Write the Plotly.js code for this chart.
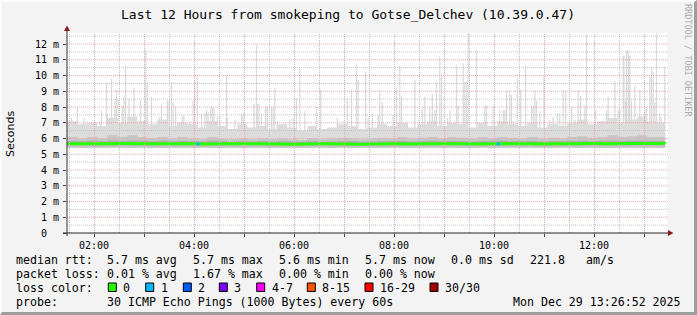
<!DOCTYPE html>
<html><head><meta charset="utf-8">
<script src="https://cdn.plot.ly/plotly-3.0.1.min.js"></script>
<style>
html,body{margin:0;padding:0;background:#f3f3f3;}
#wrap{position:absolute;left:0;top:0;width:697px;height:315px;box-sizing:border-box;border-top:2px solid #fcfcfc;border-left:2px solid #fcfcfc;border-right:3px solid #9e9e9e;border-bottom:3px solid #9e9e9e;background:#f3f3f3;}
#chart{width:692px;height:310px;}
</style></head><body><div id="wrap"><div id="chart"></div></div>
<script>
// ---- data (minutes since midnight, values in ms) ----
const hourTicks = [120,180,240,300,360,420,480,540,600,660,720,780];
const hourLabels = ["02:00","","04:00","","06:00","","08:00","","10:00","","12:00",""];
const yTicks = [0,1,2,3,4,5,6,7,8,9,10,11,12];
const yLabels = ["0\u00a0\u00a0","1 m","2 m","3 m","4 m","5 m","6 m","7 m","8 m","9 m","10 m","11 m","12 m"];

const spikeT = [88,93,100,108,127,129,135,136,141,145,147,149,154,156,158,162,168,176,182,184,189,199,201,
208,210,213,215,218,226,228,235,239,241,244,249,253,255,257,260,262,264,268,271,279,280,289,297,299,312,315,316,318,321,
326,328,333,335,337,340,349,355,359,363,367,373,387,392,412,424,429,435,437,
446,449,454,461,463,466,479,483,487,489,496,505,510,514,517,523,526,529,531,535,537,544,547,555,557,563,565,
567,569,579,589,591,599,607,611,613,615,619,621,623,628,632,638,645,647,649,651,655,660,667,671,676,679,683,
686,693,697,701,704,709,711,722,735,737,745,749,751,755,756,758,759,761,762,763,765,769,775,781,783,787,789,791,793,795,799,801,805];
const spikeV = [7.2,7.35,8.0,7.3,7.1,7.8,9.55,7.55,9.8,8.4,9.1,8.45,8.1,8.65,10.65,8.55,9.2,8.45,11.6,9.55,8.65,7.35,8.1,
8.4,8.4,9.6,8.3,8.1,7.45,7.45,7.1,8.4,9.65,9.9,7.6,7.6,7.8,7.7,8.0,8.0,7.9,7.4,7.35,10.0,7.3,7.2,7.6,7.6,8.2,12.0,8.2,8.2,7.6,
8.05,8.05,8.0,8.0,9.2,7.1,6.95,7.2,7.3,8.55,10.5,7.75,8.05,9.1,7.3,8.5,9.1,10.7,9.75,
10.25,7.3,7.6,7.5,9.1,8.3,7.5,9.3,10.65,8.65,7.0,9.75,7.2,7.9,8.65,8.0,8.85,7.8,9.6,11.2,9.9,7.3,7.8,10.65,8.1,10.8,9.6,
9.6,12.8,11.6,8.1,8.1,8.05,7.8,7.8,7.8,9.05,8.95,8.75,7.1,9.8,9.1,10.65,8.1,8.05,9.05,8.4,7.75,9.95,7.2,7.35,7.6,7.6,9.1,
9.0,8.0,7.2,9.1,8.7,8.1,12.6,7.8,7.8,8.65,9.65,7.8,7.9,11.25,11.25,8.35,11.6,11.6,11.25,11.25,8.4,9.35,9.05,7.85,8.0,9.95,10.5,10.2,8.3,12.7,7.6,7.35,10.6];
const spikeBase = 5.45;

const bandT = [88,100,112,124,136,148,160,172,184,196,208,220,232,244,256,268,280,292,304,316,328,340,352,364,376,388,400,412,424,436,
448,460,472,484,496,508,520,532,544,556,568,580,592,604,616,628,640,652,664,676,688,700,712,724,736,748,760,772,784,796,805];
const bandLight = [7.1,6.9,7.0,6.8,7.3,7.0,7.4,7.1,6.9,7.2,6.8,7.0,6.9,6.7,7.1,6.8,6.6,6.9,6.7,6.8,
6.6,6.9,6.7,6.5,6.8,6.6,6.7,6.9,6.8,6.6,6.7,6.9,6.8,7.0,6.7,6.9,7.1,6.8,7.0,6.9,
6.7,7.0,6.8,7.1,6.9,6.8,7.0,6.7,6.9,6.8,7.0,7.2,6.9,7.1,7.3,7.0,7.2,7.4,7.1,7.0,7.2];
const bandMid = [6.1,6.0,6.1,6.0,6.2,6.1,6.2,6.1,6.0,6.1,6.0,6.1,6.0,5.95,6.1,6.0,5.95,6.0,5.95,6.0,
5.95,6.0,5.95,5.9,6.0,5.95,6.0,6.05,6.0,5.95,6.0,6.05,6.0,6.1,6.0,6.05,6.1,6.0,6.1,6.05,
6.0,6.1,6.0,6.1,6.05,6.0,6.1,6.0,6.05,6.0,6.1,6.15,6.05,6.1,6.2,6.1,6.15,6.2,6.1,6.1,6.15];
const bandLow = [5.42,5.40,5.41,5.39,5.41,5.42,5.40,5.41,5.40,5.39,5.41,5.42,5.40,5.41,5.39,5.40,5.41,5.40,5.42,5.41,
5.40,5.39,5.41,5.40,5.41,5.42,5.40,5.41,5.40,5.41,5.42,5.40,5.41,5.39,5.40,5.41,5.42,5.40,5.41,5.40,
5.39,5.41,5.40,5.42,5.41,5.40,5.41,5.39,5.40,5.41,5.42,5.40,5.41,5.40,5.39,5.41,5.42,5.40,5.41,5.40,5.41];
const darkLo = [5.58,5.57,5.58,5.56,5.58,5.57,5.58,5.57,5.56,5.58,5.57,5.58,5.56,5.57,5.58,5.57,5.56,5.57,5.58,5.57,
5.56,5.57,5.58,5.56,5.57,5.58,5.57,5.56,5.57,5.58,5.57,5.58,5.56,5.57,5.58,5.57,5.56,5.58,5.57,5.58,
5.57,5.56,5.58,5.57,5.58,5.56,5.57,5.58,5.57,5.56,5.58,5.57,5.58,5.57,5.58,5.56,5.57,5.58,5.57,5.58,5.57];
const darkHi = [5.84,5.82,5.85,5.83,5.87,5.84,5.88,5.85,5.83,5.86,5.82,5.84,5.83,5.81,5.85,5.82,5.80,5.83,5.81,5.82,
5.80,5.83,5.81,5.79,5.82,5.80,5.81,5.83,5.82,5.80,5.81,5.83,5.82,5.84,5.81,5.83,5.85,5.82,5.84,5.83,
5.81,5.84,5.82,5.85,5.83,5.82,5.84,5.81,5.83,5.82,5.84,5.86,5.83,5.85,5.87,5.84,5.86,5.88,5.85,5.84,5.86];

const medT = [88,108,128,148,168,188,208,228,248,268,288,308,328,348,368,388,408,428,448,468,488,508,528,548,568,588,608,628,648,668,688,708,728,748,768,788,805];
const medV = [5.66,5.67,5.66,5.68,5.67,5.66,5.67,5.66,5.65,5.66,5.67,5.66,5.65,5.64,5.65,5.66,5.65,5.64,5.65,5.66,5.65,5.66,5.67,5.66,5.65,5.66,5.67,5.66,5.65,5.66,5.67,5.68,5.67,5.68,5.69,5.68,5.67];

const loss1T = [245,605];
const loss1V = [5.66,5.66];

const lossLabels = ["0","1","2","3","4-7","8-15","16-29","30/30"];
const lossColors = ["#26ff00","#00b8ff","#0059ff","#7e00ff","#ff00ff","#ff5500","#ff0000","#a10000"];

const row1 = ["median rtt:","5.7 ms avg","5.7 ms max","5.6 ms min","5.7 ms now","0.0 ms sd","221.8","am/s"];
const row2 = ["packet loss:","0.01 % avg","1.67 % max","0.00 % min","0.00 % now"];
const row3Label = "loss color:";
const row4 = ["probe:","30 ICMP Echo Pings (1000 Bytes) every 60s","Mon Dec 29 13:26:52 2025"];
const titleText = "Last 12 Hours from smokeping to Gotse_Delchev (10.39.0.47)";

// ---- layout helpers (page pixels -> paper fractions) ----
const PL=67, PR=668, PT=33, PB=233;
const X = px => (px-PL)/(PR-PL);
const Y = py => (PB-py)/(PB-PT);
const MONO = "DejaVu Sans Mono, monospace";
const XR = [87.6,808.8], YR = [0,12.7];
const HALFPX = (XR[1]-XR[0])/(PR-PL)/2;

const traces = [];
traces.push({type:'bar', x:spikeT, y:spikeV.map(v=>v-spikeBase), base:spikeBase, width:1.5,
  marker:{color:'#dadada', line:{width:0}}, hoverinfo:'skip'});
function band(lo, hi, color){
  traces.push({type:'scatter', mode:'lines', x:bandT, y:lo, line:{width:0, shape:'hv'}, hoverinfo:'skip'});
  traces.push({type:'scatter', mode:'lines', x:bandT, y:hi, line:{width:0, shape:'hv'}, fill:'tonexty', fillcolor:color, hoverinfo:'skip'});
}
band(bandLow, bandLight, '#dcdcdc');
band(bandLow, bandMid, '#c6c6c6');
band(darkLo, darkHi, '#adadad');
traces.push({type:'scatter', mode:'lines', x:medT, y:medV, line:{color:'#26ff00', width:3, shape:'hv'}, hoverinfo:'skip'});
traces.push({type:'scatter', mode:'markers', x:loss1T, y:loss1V, marker:{color:'#00b8ff', size:3, symbol:'square'}, hoverinfo:'skip'});

const shapes = [];
// grid drawn above the smoke, like rrdtool
const MINORC = '#c2c2c2', MAJORC = '#e6aaaa', DASH = '1px,1px';
hourTicks.map(t=>t-30).filter(t=>t>XR[0]&&t<XR[1]).forEach(t=>{
  shapes.push({type:'line', layer:'above', xref:'x', yref:'paper', x0:t+HALFPX, x1:t+HALFPX, y0:0, y1:1, line:{color:MINORC, width:1, dash:DASH}});
});
yTicks.map(v=>v+0.5).filter(v=>v<YR[1]).forEach(v=>{
  shapes.push({type:'line', layer:'above', xref:'paper', yref:'y', x0:0, x1:1, y0:v, y1:v, line:{color:MINORC, width:1, dash:DASH}});
});
hourTicks.forEach(t=>{
  shapes.push({type:'line', layer:'above', xref:'x', yref:'paper', x0:t+HALFPX, x1:t+HALFPX, y0:0, y1:1, line:{color:MAJORC, width:1, dash:DASH}});
});
yTicks.filter(v=>v>0).forEach(v=>{
  shapes.push({type:'line', layer:'above', xref:'paper', yref:'y', x0:0, x1:1, y0:v, y1:v, line:{color:MAJORC, width:1, dash:DASH}});
});

const annotations = [];
function txt(text, px, py, opts){
  annotations.push(Object.assign({xref:'paper', yref:'paper', x:X(px), y:Y(py), text:text, showarrow:false,
    xanchor:'left', yanchor:'middle', borderpad:0, font:{family:MONO, size:11.6, color:'#000'}}, opts||{}));
}
const r1x=[16,107.3,193.3,279.3,365,451,530,586];
row1.forEach((t,i)=>txt(t, r1x[i]-1, 259.5));
const r2x=[16,107.3,193.3,279.3,365];
row2.forEach((t,i)=>txt(t, r2x[i]-1, 273.5));
txt(row3Label, 15, 287.5);
const boxX=[108.3,145.7,183.3,219.3,256.7,307.3,365,430];
lossLabels.forEach((t,i)=>{
  txt(t, boxX[i]+14, 287.5);
  shapes.push({type:'rect', xref:'paper', yref:'paper', x0:X(boxX[i]), x1:X(boxX[i]+8), y0:Y(291.5), y1:Y(283),
    fillcolor:lossColors[i], line:{color:'#000', width:1}});
});
const r4x=[16,107.3,512.7];
row4.forEach((t,i)=>txt(t, r4x[i]-1, 302));
txt('Seconds', 10, 134, {xanchor:'center', textangle:-90, font:{family:'DejaVu Sans, sans-serif', size:11, color:'#000'}});
txt('RRDTOOL / TOBI OETIKER', 688, 60, {xanchor:'center', textangle:90, font:{family:MONO, size:8.5, color:'#ababab'}});

// axis lines and arrows
shapes.push({type:'line', xref:'paper', yref:'paper', x0:X(67), x1:X(67), y0:Y(236), y1:Y(29), line:{color:'#333', width:1}});
shapes.push({type:'line', xref:'paper', yref:'paper', x0:X(63), x1:X(669), y0:Y(233), y1:Y(233), line:{color:'#222', width:1}});
shapes.push({type:'path', xref:'paper', yref:'paper', path:`M ${X(64)},${Y(31)} L ${X(67)},${Y(25.5)} L ${X(70)},${Y(31)} Z`, fillcolor:'#8b1a1a', line:{width:0}});
shapes.push({type:'path', xref:'paper', yref:'paper', path:`M ${X(668)},${Y(230)} L ${X(673.5)},${Y(233)} L ${X(668)},${Y(236)} Z`, fillcolor:'#8b1a1a', line:{width:0}});

const layout = {
  width:692, height:310,
  margin:{l:PL-2, r:692-(PR-2), t:PT-2, b:310-(PB-2), pad:0},
  paper_bgcolor:'#f3f3f3', plot_bgcolor:'#ffffff',
  showlegend:false, barmode:'overlay',
  title:{text:titleText, font:{family:MONO, size:13, color:'#000'}, x:0.5, xref:'container', xanchor:'center', y:1-12/310, yref:'container', yanchor:'middle'},
  xaxis:{range:XR, tickmode:'array', tickvals:hourTicks, ticktext:hourLabels, showgrid:false,
    ticks:'outside', ticklen:3, tickcolor:'#444', tickfont:{family:MONO, size:10, color:'#000'},
    zeroline:false, showline:false, fixedrange:true},
  yaxis:{range:YR, tickmode:'array', tickvals:yTicks, ticktext:yLabels, showgrid:false,
    ticks:'outside', ticklen:3, tickcolor:'#444', ticklabelstandoff:2, tickfont:{family:MONO, size:10, color:'#000'},
    zeroline:false, showline:false, fixedrange:true},
  annotations:annotations, shapes:shapes
};
Plotly.newPlot('chart', traces, layout, {staticPlot:true, displayModeBar:false});
</script></body></html>
